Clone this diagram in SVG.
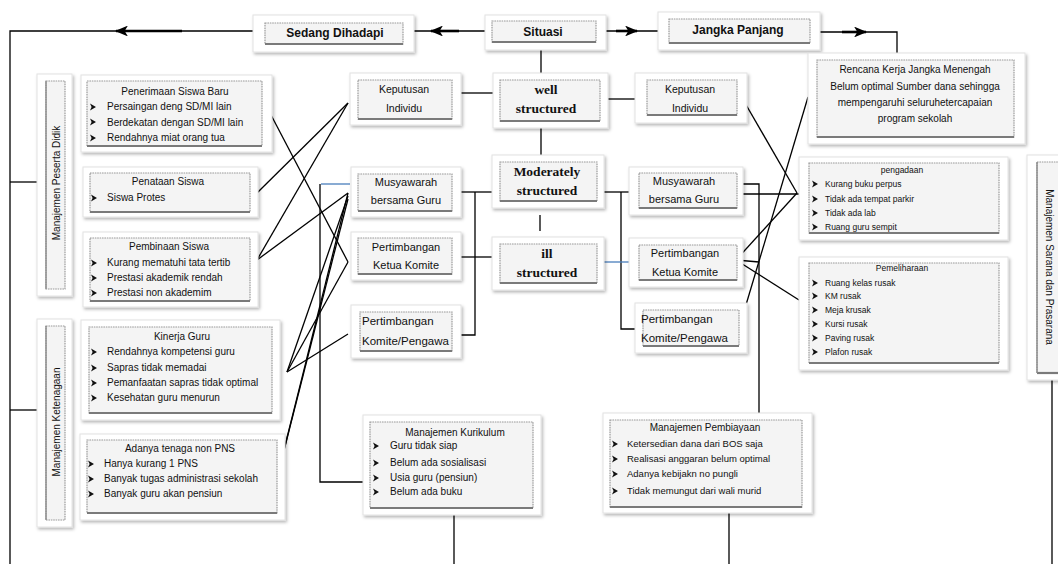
<svg xmlns="http://www.w3.org/2000/svg" width="1058" height="564" viewBox="0 0 1058 564">
<defs>
<filter id="sh" x="-10%" y="-10%" width="125%" height="130%">
<feDropShadow dx="1.5" dy="2" stdDeviation="1.8" flood-color="#000" flood-opacity="0.28"/>
</filter>
<path id="b" d="M0,-3.5 L6,0 L0,3.5 L1.6,0 Z" fill="#111"/>
<marker id="ah" viewBox="0 0 12 10" refX="11" refY="5" markerWidth="5" markerHeight="4.2" orient="auto" markerUnits="strokeWidth">
<path d="M0,0 L12,5 L0,10 L3,5 Z" fill="#000"/>
</marker>
<style>
.o{fill:#fff;stroke:#e2e2e2;stroke-width:1;filter:url(#sh)}
.i{fill:#f4f4f4;stroke:#9a9a9a;stroke-width:1.2;stroke-dasharray:1.6 0.8}
.bb{stroke:#7a7a7a;stroke-width:2.2}
.bl{stroke:#8a8a8a;stroke-width:1.4}
text{font-family:"Liberation Sans",Arial,sans-serif;fill:#111}
.t{font-size:12px;font-weight:bold;text-anchor:middle}
.s{font-family:"Liberation Serif","Times New Roman",serif;font-size:13.5px;font-weight:bold;text-anchor:middle}
.m{font-size:10.5px;text-anchor:middle}
.k{font-size:11.5px}
.h{font-size:10px;text-anchor:middle}
.l{font-size:10px}
.sm{font-size:8.5px}
.smh{font-size:8.5px;text-anchor:middle}
.v{font-size:10px;text-anchor:middle}
.c{fill:none;stroke:#000;stroke-width:1.3}
.a{fill:none;stroke:#000;stroke-width:2.6;marker-end:url(#ah)}
.bu{fill:none;stroke:#4a7ebb;stroke-width:1.3}
</style>
</defs>
<rect width="1058" height="564" fill="#fff"/>

<g id="connectors">
<path class="c" d="M253,31 H10 V564"/>
<path class="a" d="M182,31 H116"/>
<path class="c" d="M485,31 H414"/>
<path class="a" d="M459,31 H431"/>
<path class="c" d="M606,31 H658"/>
<path class="a" d="M616,31 H637"/>
<path class="c" d="M820,32 H897 V53"/>
<path class="a" d="M842,32 H866"/>
<path class="c" d="M10,182 H37"/>
<path class="c" d="M10,410 H37"/>
<path class="c" d="M541,50 V73"/>
<path class="c" d="M541,128 V155"/>
<path class="c" d="M540,215 V231"/>
<path class="c" d="M461,93 H493"/>
<path class="c" d="M461,192 H492"/>
<path class="c" d="M461,257 H492"/>
<path class="c" d="M475,192 V335 H461"/>
<path class="c" d="M608,99 H635"/>
<path class="c" d="M604,192 H629"/>
<path class="c" d="M621,192 V329 H635"/>
<path class="bu" d="M604,262 H629"/>
<path class="bu" d="M321,184 H350"/>
<path class="c" d="M320,184 V482 H363"/>
<path class="c" d="M454,515 V564"/>
<path class="c" d="M729,513 V564"/>
<path class="c" d="M1052,380 V564"/>
<path class="c" d="M736,184 H759 V413"/>
<path class="c" d="M745,103 L797,193"/>
<path class="c" d="M736,194 H799"/>
<path class="c" d="M736,260 L797,193"/>
<path class="c" d="M736,260 L759,262"/>
<path class="c" d="M736,260 L799,300"/>
<path class="c" d="M737,335 L808,97"/>
<path class="c" d="M270,113 L348,262"/>
<path class="c" d="M348,103 L257,193"/>
<path class="c" d="M348,103 L257,260"/>
<path class="c" d="M348,193 L257,260"/>
<path class="c" d="M348,196 L287,372"/>
<path class="c" d="M348,193 L279,470"/>
<path class="c" d="M348,199 L279,470"/>
<path class="c" d="M348,262 L287,372"/>
<path class="c" d="M348,334 L287,372"/>
</g>

<g id="sedang">
<rect class="o" x="253" y="15" width="161" height="37"/>
<rect class="i" x="265" y="23" width="138" height="21"/>
<line class="bb" x1="265" y1="44" x2="403" y2="44"/>
<text class="t" x="335" y="37">Sedang Dihadapi</text>
</g>
<g id="situasi">
<rect class="o" x="485" y="15" width="121" height="35"/>
<rect class="i" x="492" y="21" width="104" height="21"/>
<line class="bb" x1="492" y1="42" x2="596" y2="42"/>
<text class="t" x="543" y="36">Situasi</text>
</g>
<g id="jangka">
<rect class="o" x="658" y="12" width="162" height="38"/>
<rect class="i" x="669" y="19" width="141" height="24"/>
<line class="bb" x1="669" y1="43" x2="810" y2="43"/>
<text class="t" x="738" y="34">Jangka  Panjang</text>
</g>
<g id="rencana">
<rect class="o" x="808" y="53" width="217" height="91"/>
<rect class="i" x="817" y="60" width="197" height="77"/>
<line class="bb" x1="817" y1="137" x2="1014" y2="137"/>
<text class="h" x="915" y="73">Rencana Kerja Jangka Menengah</text>
<text class="h" x="915" y="90">Belum optimal Sumber dana sehingga</text>
<text class="h" x="915" y="106">mempengaruhi seluruhetercapaian</text>
<text class="h" x="915" y="122">program  sekolah</text>
</g>

<g id="peserta">
<rect class="o" x="37" y="74" width="35" height="222"/>
<rect class="i" x="46" y="81" width="19" height="208"/>
<line class="bl" x1="46" y1="81" x2="46" y2="289"/>
<text class="v" transform="translate(56,183) rotate(-90)" dy="3.5">Manajemen  Peserta Didik</text>
</g>
<g id="ketenagaan">
<rect class="o" x="37" y="319" width="35" height="208"/>
<rect class="i" x="46" y="326" width="19" height="194"/>
<line class="bl" x1="46" y1="326" x2="46" y2="520"/>
<text class="v" transform="translate(56,422) rotate(-90)" dy="3.5">Manajemen  Ketenagaan</text>
</g>

<g id="penerimaan">
<rect class="o" x="81" y="75" width="191" height="77"/>
<rect class="i" x="87" y="81" width="175" height="65"/>
<line class="bb" x1="87" y1="146" x2="262" y2="146"/>
<text class="h" x="175" y="95">Penerimaan Siswa Baru</text>
<use href="#b" x="90" y="107"/><text class="l" x="107" y="110">Persaingan deng SD/MI lain</text>
<use href="#b" x="90" y="122"/><text class="l" x="107" y="126">Berdekatan dengan SD/MI lain</text>
<use href="#b" x="90" y="138"/><text class="l" x="107" y="141">Rendahnya miat  orang tua</text>
</g>
<g id="penataan">
<rect class="o" x="83" y="167" width="175" height="50"/>
<rect class="i" x="90" y="173" width="160" height="39"/>
<line class="bb" x1="90" y1="212" x2="250" y2="212"/>
<text class="h" x="168" y="185">Penataan Siswa</text>
<use href="#b" x="91" y="198"/><text class="l" x="107" y="201">Siswa Protes</text>
</g>
<g id="pembinaan">
<rect class="o" x="83" y="232" width="175" height="75"/>
<rect class="i" x="90" y="238" width="160" height="63"/>
<line class="bb" x1="90" y1="301" x2="250" y2="301"/>
<text class="h" x="169" y="250">Pembinaan Siswa</text>
<use href="#b" x="91" y="263"/><text class="l" x="107" y="266">Kurang mematuhi tata tertib</text>
<use href="#b" x="91" y="278"/><text class="l" x="107" y="281">Prestasi akademik rendah</text>
<use href="#b" x="91" y="293"/><text class="l" x="107" y="296">Prestasi non akademim</text>
</g>
<g id="kinerja">
<rect class="o" x="81" y="320" width="199" height="100"/>
<rect class="i" x="89" y="327" width="183" height="86"/>
<line class="bb" x1="89" y1="413" x2="272" y2="413"/>
<text class="h" x="182" y="340">Kinerja Guru</text>
<use href="#b" x="91" y="352"/><text class="l" x="107" y="355">Rendahnya kompetensi guru</text>
<use href="#b" x="91" y="368"/><text class="l" x="107" y="371">Sapras tidak memadai</text>
<use href="#b" x="91" y="383"/><text class="l" x="107" y="386">Pemanfaatan sapras tidak optimal</text>
<use href="#b" x="91" y="398"/><text class="l" x="107" y="401">Kesehatan guru menurun</text>
</g>
<g id="adanya">
<rect class="o" x="80" y="434" width="205" height="86"/>
<rect class="i" x="87" y="440" width="190" height="73"/>
<line class="bb" x1="87" y1="513" x2="277" y2="513"/>
<text class="h" x="180" y="452">Adanya tenaga non PNS</text>
<use href="#b" x="88" y="464"/><text class="l" x="104" y="467">Hanya kurang 1 PNS</text>
<use href="#b" x="88" y="479"/><text class="l" x="104" y="482">Banyak tugas administrasi sekolah</text>
<use href="#b" x="88" y="494"/><text class="l" x="104" y="497">Banyak guru akan pensiun</text>
</g>

<g id="keputusan-l">
<rect class="o" x="350" y="73" width="111" height="52"/>
<rect class="i" x="358" y="80" width="94" height="39"/>
<line class="bb" x1="358" y1="119" x2="452" y2="119"/>
<text class="m" x="404" y="93">Keputusan</text>
<text class="m" x="404" y="112">Individu</text>
</g>
<g id="musyawarah-l">
<rect class="o" x="351" y="167" width="110" height="50"/>
<rect class="i" x="358" y="174" width="94" height="37"/>
<line class="bb" x1="358" y1="211" x2="452" y2="211"/>
<text class="m" x="406" y="186" style="font-size:11px">Musyawarah</text>
<text class="m" x="406" y="204" style="font-size:11px">bersama  Guru</text>
</g>
<g id="ketua-l">
<rect class="o" x="351" y="232" width="110" height="48"/>
<rect class="i" x="358" y="238" width="94" height="36"/>
<line class="bb" x1="358" y1="274" x2="452" y2="274"/>
<text class="m" x="406" y="251" style="font-size:11px">Pertimbangan</text>
<text class="m" x="406" y="269" style="font-size:11px">Ketua Komite</text>
</g>
<g id="pengawa-l">
<rect class="o" x="351" y="305" width="110" height="53"/>
<rect class="i" x="360" y="312" width="92" height="39"/>
<line class="bb" x1="360" y1="351" x2="452" y2="351"/>
<text class="k" x="362" y="325">Pertimbangan</text>
<text class="k" x="362" y="345">Komite/Pengawa</text>
</g>

<g id="well">
<rect class="o" x="493" y="73" width="115" height="55"/>
<rect class="i" x="500" y="80" width="100" height="41"/>
<line class="bb" x1="500" y1="121" x2="600" y2="121"/>
<text class="s" x="546" y="94">well</text>
<text class="s" x="546" y="113">structured</text>
</g>
<g id="moderately">
<rect class="o" x="492" y="155" width="112" height="53"/>
<rect class="i" x="500" y="162" width="97" height="39"/>
<line class="bb" x1="500" y1="201" x2="597" y2="201"/>
<text class="s" x="547" y="176">Moderately</text>
<text class="s" x="547" y="195">structured</text>
</g>
<g id="ill">
<rect class="o" x="492" y="237" width="112" height="53"/>
<rect class="i" x="500" y="244" width="97" height="39"/>
<line class="bb" x1="500" y1="283" x2="597" y2="283"/>
<text class="s" x="547" y="258">ill</text>
<text class="s" x="547" y="277">structured</text>
</g>

<g id="keputusan-r">
<rect class="o" x="635" y="73" width="112" height="50"/>
<rect class="i" x="647" y="80" width="90" height="35"/>
<line class="bb" x1="647" y1="115" x2="737" y2="115"/>
<text class="m" x="690" y="93">Keputusan</text>
<text class="m" x="690" y="112">Individu</text>
</g>
<g id="musyawarah-r">
<rect class="o" x="629" y="167" width="114" height="48"/>
<rect class="i" x="639" y="173" width="98" height="35"/>
<line class="bb" x1="639" y1="208" x2="737" y2="208"/>
<text class="m" x="684" y="185" style="font-size:11px">Musyawarah</text>
<text class="m" x="684" y="203" style="font-size:11px">bersama  Guru</text>
</g>
<g id="ketua-r">
<rect class="o" x="629" y="238" width="114" height="49"/>
<rect class="i" x="639" y="245" width="98" height="35"/>
<line class="bb" x1="639" y1="280" x2="737" y2="280"/>
<text class="m" x="685" y="257" style="font-size:11px">Pertimbangan</text>
<text class="m" x="685" y="276" style="font-size:11px">Ketua Komite</text>
</g>
<g id="pengawa-r">
<rect class="o" x="635" y="303" width="112" height="50"/>
<rect class="i" x="643" y="310" width="96" height="36"/>
<line class="bb" x1="643" y1="346" x2="739" y2="346"/>
<text class="k" x="641" y="323">Pertimbangan</text>
<text class="k" x="641" y="342">Komite/Pengawa</text>
</g>

<g id="pengadaan">
<rect class="o" x="799" y="157" width="209" height="83"/>
<rect class="i" x="809" y="163" width="190" height="70"/>
<line class="bb" x1="809" y1="233" x2="999" y2="233"/>
<text class="smh" x="902" y="173">pengadaan</text>
<use href="#b" x="812" y="184" transform="translate(0,0)"/><text class="sm" x="825" y="187">Kurang buku perpus</text>
<use href="#b" x="812" y="199"/><text class="sm" x="825" y="202">Tidak ada tempat parkir</text>
<use href="#b" x="812" y="213"/><text class="sm" x="825" y="216">Tidak ada lab</text>
<use href="#b" x="812" y="227"/><text class="sm" x="825" y="230">Ruang guru sempit</text>
</g>
<g id="pemeliharaan">
<rect class="o" x="799" y="257" width="209" height="113"/>
<rect class="i" x="809" y="263" width="190" height="100"/>
<line class="bb" x1="809" y1="363" x2="999" y2="363"/>
<text class="smh" x="902" y="271">Pemeliharaan</text>
<use href="#b" x="812" y="283"/><text class="sm" x="825" y="286">Ruang  kelas rusak</text>
<use href="#b" x="812" y="296"/><text class="sm" x="825" y="299">KM rusak</text>
<use href="#b" x="812" y="310"/><text class="sm" x="825" y="313">Meja krusak</text>
<use href="#b" x="812" y="324"/><text class="sm" x="825" y="327">Kursi rusak</text>
<use href="#b" x="812" y="338"/><text class="sm" x="825" y="341">Paving rusak</text>
<use href="#b" x="812" y="352"/><text class="sm" x="825" y="355">Plafon  rusak</text>
</g>
<g id="sarana">
<rect class="o" x="1027" y="155" width="40" height="225"/>
<rect class="i" x="1037" y="162" width="30" height="211"/>
<line class="bb" x1="1037" y1="373" x2="1058" y2="373"/>
<line class="bl" x1="1037" y1="162" x2="1037" y2="373"/>
<text class="v" transform="translate(1049,267) rotate(90)" dy="3.5">Manajemen  Sarana  dan  Prasarana</text>
</g>

<g id="kurikulum">
<rect class="o" x="363" y="415" width="178" height="100"/>
<rect class="i" x="370" y="422" width="163" height="86"/>
<line class="bb" x1="370" y1="508" x2="533" y2="508"/>
<text class="h" x="455" y="436">Manajemen  Kurikulum</text>
<use href="#b" x="373" y="446"/><text class="l" x="390" y="449">Guru tidak siap</text>
<use href="#b" x="373" y="463"/><text class="l" x="390" y="466">Belum ada sosialisasi</text>
<use href="#b" x="373" y="478"/><text class="l" x="390" y="481">Usia guru (pensiun)</text>
<use href="#b" x="373" y="492"/><text class="l" x="390" y="495">Belum ada buku</text>
</g>
<g id="pembiayaan">
<rect class="o" x="603" y="413" width="209" height="100"/>
<rect class="i" x="610" y="420" width="192" height="87"/>
<line class="bb" x1="610" y1="507" x2="802" y2="507"/>
<text class="h" x="705" y="431">Manajemen  Pembiayaan</text>
<use href="#b" x="612" y="444"/><text class="l" x="627" y="447" style="font-size:9.5px">Ketersedian dana dari BOS saja</text>
<use href="#b" x="612" y="459"/><text class="l" x="627" y="462" style="font-size:9.5px">Realisasi anggaran  belum optimal</text>
<use href="#b" x="612" y="474"/><text class="l" x="627" y="477" style="font-size:9.5px">Adanya kebijakn no pungli</text>
<use href="#b" x="612" y="491"/><text class="l" x="627" y="494" style="font-size:9.5px">Tidak memungut dari wali murid</text>
</g>
</svg>
